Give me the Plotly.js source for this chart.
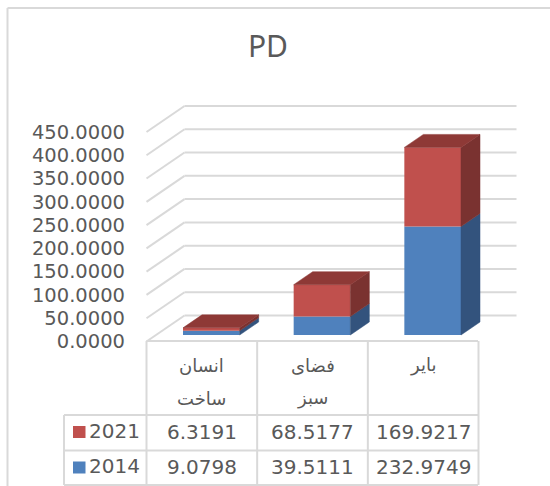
<!DOCTYPE html>
<html>
<head>
<meta charset="utf-8">
<script src="https://cdn.plot.ly/plotly-3.0.1.min.js"></script>
<style>
    html, body { margin: 0; padding: 0; background: #fff; }
    #plot { width: 550px; height: 486px; }
</style>
</head>
<body>
<div id="plot"></div>
<script>
// data
let categoryLines = [['انسان', 'ساخت'], ['فضای', 'سبز'], ['بایر']];
let seriesNames = ['2021', '2014'];
let values2014 = [9.0798, 39.5111, 232.9749];
let values2021 = [6.3191, 68.5177, 169.9217];
let yTicks = [0, 50, 100, 150, 200, 250, 300, 350, 400, 450];

const W = 550, H = 486;
const TEXT = '#595959', GRID = '#d9d9d9';
const FONT = '"DejaVu Sans", sans-serif';

// pixel frame of the fake 3d box
const zeroX = 146.5, slotW = 110.67, zeroY = 341.5, pxPerUnit = 0.4656, axisLeft = 126;
const depthX = 38 / slotW, depthY = 26 / pxPerUnit;
const barW = 0.512;

function px(x) { return x / W; }
function py(y) { return 1 - y / H; }

// category position, value and depth (0 front, 1 back) to axis units
function project(cat, value, depth) {
    return [cat + depth * depthX, value + depth * depthY];
}

function face(target, cat, low, high) {
    let l = cat + 0.5 + barW / 2;
    let pts = [project(l, low, 0.25), project(l, high, 0.25), project(l, high, 0.75), project(l, low, 0.75)];
    pts.forEach(p => { target.x.push(p[0]); target.y.push(p[1]); });
    target.x.push(pts[0][0], null);
    target.y.push(pts[0][1], null);
}

function topFace(target, cat, high) {
    let a = cat + 0.5 - barW / 2, b = cat + 0.5 + barW / 2;
    let pts = [project(a, high, 0.25), project(b, high, 0.25), project(b, high, 0.75), project(a, high, 0.75)];
    pts.forEach(p => { target.x.push(p[0]); target.y.push(p[1]); });
    target.x.push(pts[0][0], null);
    target.y.push(pts[0][1], null);
}

function polyTrace(color) {
    return { x: [], y: [], type: 'scatter', mode: 'lines', fill: 'toself', fillcolor: color,
        line: { color: color, width: 0.5 }, hoverinfo: 'skip', showlegend: false };
}

let blueSide = polyTrace('#33537d');
let redSide = polyTrace('#7a3230');
let redTop = polyTrace('#8e3936');

let barX = categoryLines.map((_, i) => project(i + 0.5, 0, 0.25)[0]);
let base = project(0, 0, 0.25)[1];

categoryLines.forEach((_, i) => {
    let mid = values2014[i];
    let high = values2014[i] + values2021[i];
    face(blueSide, i, 0, mid);
    face(redSide, i, mid, high);
    topFace(redTop, i, high);
});

let bars2014 = {
    x: barX, y: values2014, base: values2014.map(() => base), width: barW,
    type: 'bar', name: '2014', marker: { color: '#4f81bd' }, hoverinfo: 'skip', showlegend: false
};
let bars2021 = {
    x: barX, y: values2021, base: values2014.map(v => base + v), width: barW,
    type: 'bar', name: '2021', marker: { color: '#c0504d' }, hoverinfo: 'skip', showlegend: false
};

let shapes = [];
function line(xref, yref, x0, y0, x1, y1, layer) {
    shapes.push({ type: 'line', xref: xref, yref: yref, x0: x0, y0: y0, x1: x1, y1: y1,
        layer: layer || 'below', line: { color: GRID, width: 2 } });
}

// gridlines: side wall then back wall
yTicks.forEach(t => {
    let back = project(0, t, 1);
    line('x', 'y', 0, t, back[0], back[1]);
    line('x', 'y', back[0], back[1], categoryLines.length + depthX, back[1]);
});

// chart frame
line('paper', 'paper', px(7.5), py(8), 1, py(8));
line('paper', 'paper', px(7.5), py(8), px(7.5), 0);

// data table grid
line('paper', 'paper', px(zeroX), py(341), px(478), py(341));
line('paper', 'paper', px(64), py(415), px(478), py(415));
line('paper', 'paper', px(64), py(450.5), px(478), py(450.5));
line('paper', 'paper', px(64), py(485), px(478), py(485));
line('paper', 'paper', px(64), py(415), px(64), py(485));
for (let i = 0; i <= categoryLines.length; i++) {
    line('x', 'paper', i, py(341), i, py(485));
}

// legend keys inside the table
shapes.push({ type: 'rect', xref: 'paper', yref: 'paper', x0: px(73), x1: px(85.5), y0: py(426), y1: py(438),
    fillcolor: '#c0504d', line: { width: 0 } });
shapes.push({ type: 'rect', xref: 'paper', yref: 'paper', x0: px(73), x1: px(85.5), y0: py(461.5), y1: py(473.5),
    fillcolor: '#4f81bd', line: { width: 0 } });

let annotations = [];
function label(text, xref, x, y, size, anchor) {
    annotations.push({ text: text, xref: xref, yref: 'paper', x: x, y: py(y), showarrow: false,
        xanchor: anchor || 'center', yanchor: 'middle', font: { family: FONT, size: size, color: TEXT } });
}

categoryLines.forEach((lines, i) => {
    lines.forEach((t, j) => label(t, 'x', i + 0.5, 365 + j * 33, 18));
    label(values2021[i].toFixed(4), 'x', i + 0.5, 432, 20);
    label(values2014[i].toFixed(4), 'x', i + 0.5, 467, 20);
});
label(seriesNames[0], 'paper', px(87), 431, 20, 'left');
label(seriesNames[1], 'paper', px(87), 466, 20, 'left');

let layout = {
    width: W,
    height: H,
    margin: { l: 0, r: 0, t: 0, b: 0, pad: 0 },
    paper_bgcolor: '#fff',
    plot_bgcolor: 'rgba(0,0,0,0)',
    showlegend: false,
    barmode: 'overlay',
    title: {
        text: 'PD', x: 268 / W, xanchor: 'center', y: py(46), yanchor: 'middle',
        font: { family: '"Noto Sans", sans-serif', size: 30, color: TEXT }
    },
    xaxis: {
        domain: [axisLeft / W, 1],
        range: [(axisLeft - zeroX) / slotW, (W - zeroX) / slotW],
        visible: false, fixedrange: true
    },
    yaxis: {
        domain: [0, 1],
        range: [-(H - zeroY) / pxPerUnit, zeroY / pxPerUnit],
        tickmode: 'array', tickvals: yTicks, tickformat: '.4f',
        ticks: '', showgrid: false, zeroline: false, showline: false, fixedrange: true,
        tickfont: { family: FONT, size: 19.5, color: TEXT }
    },
    shapes: shapes,
    annotations: annotations
};

Plotly.newPlot('plot', [bars2014, bars2021, blueSide, redSide, redTop], layout, { displayModeBar: false, staticPlot: true });
</script>
</body>
</html>
